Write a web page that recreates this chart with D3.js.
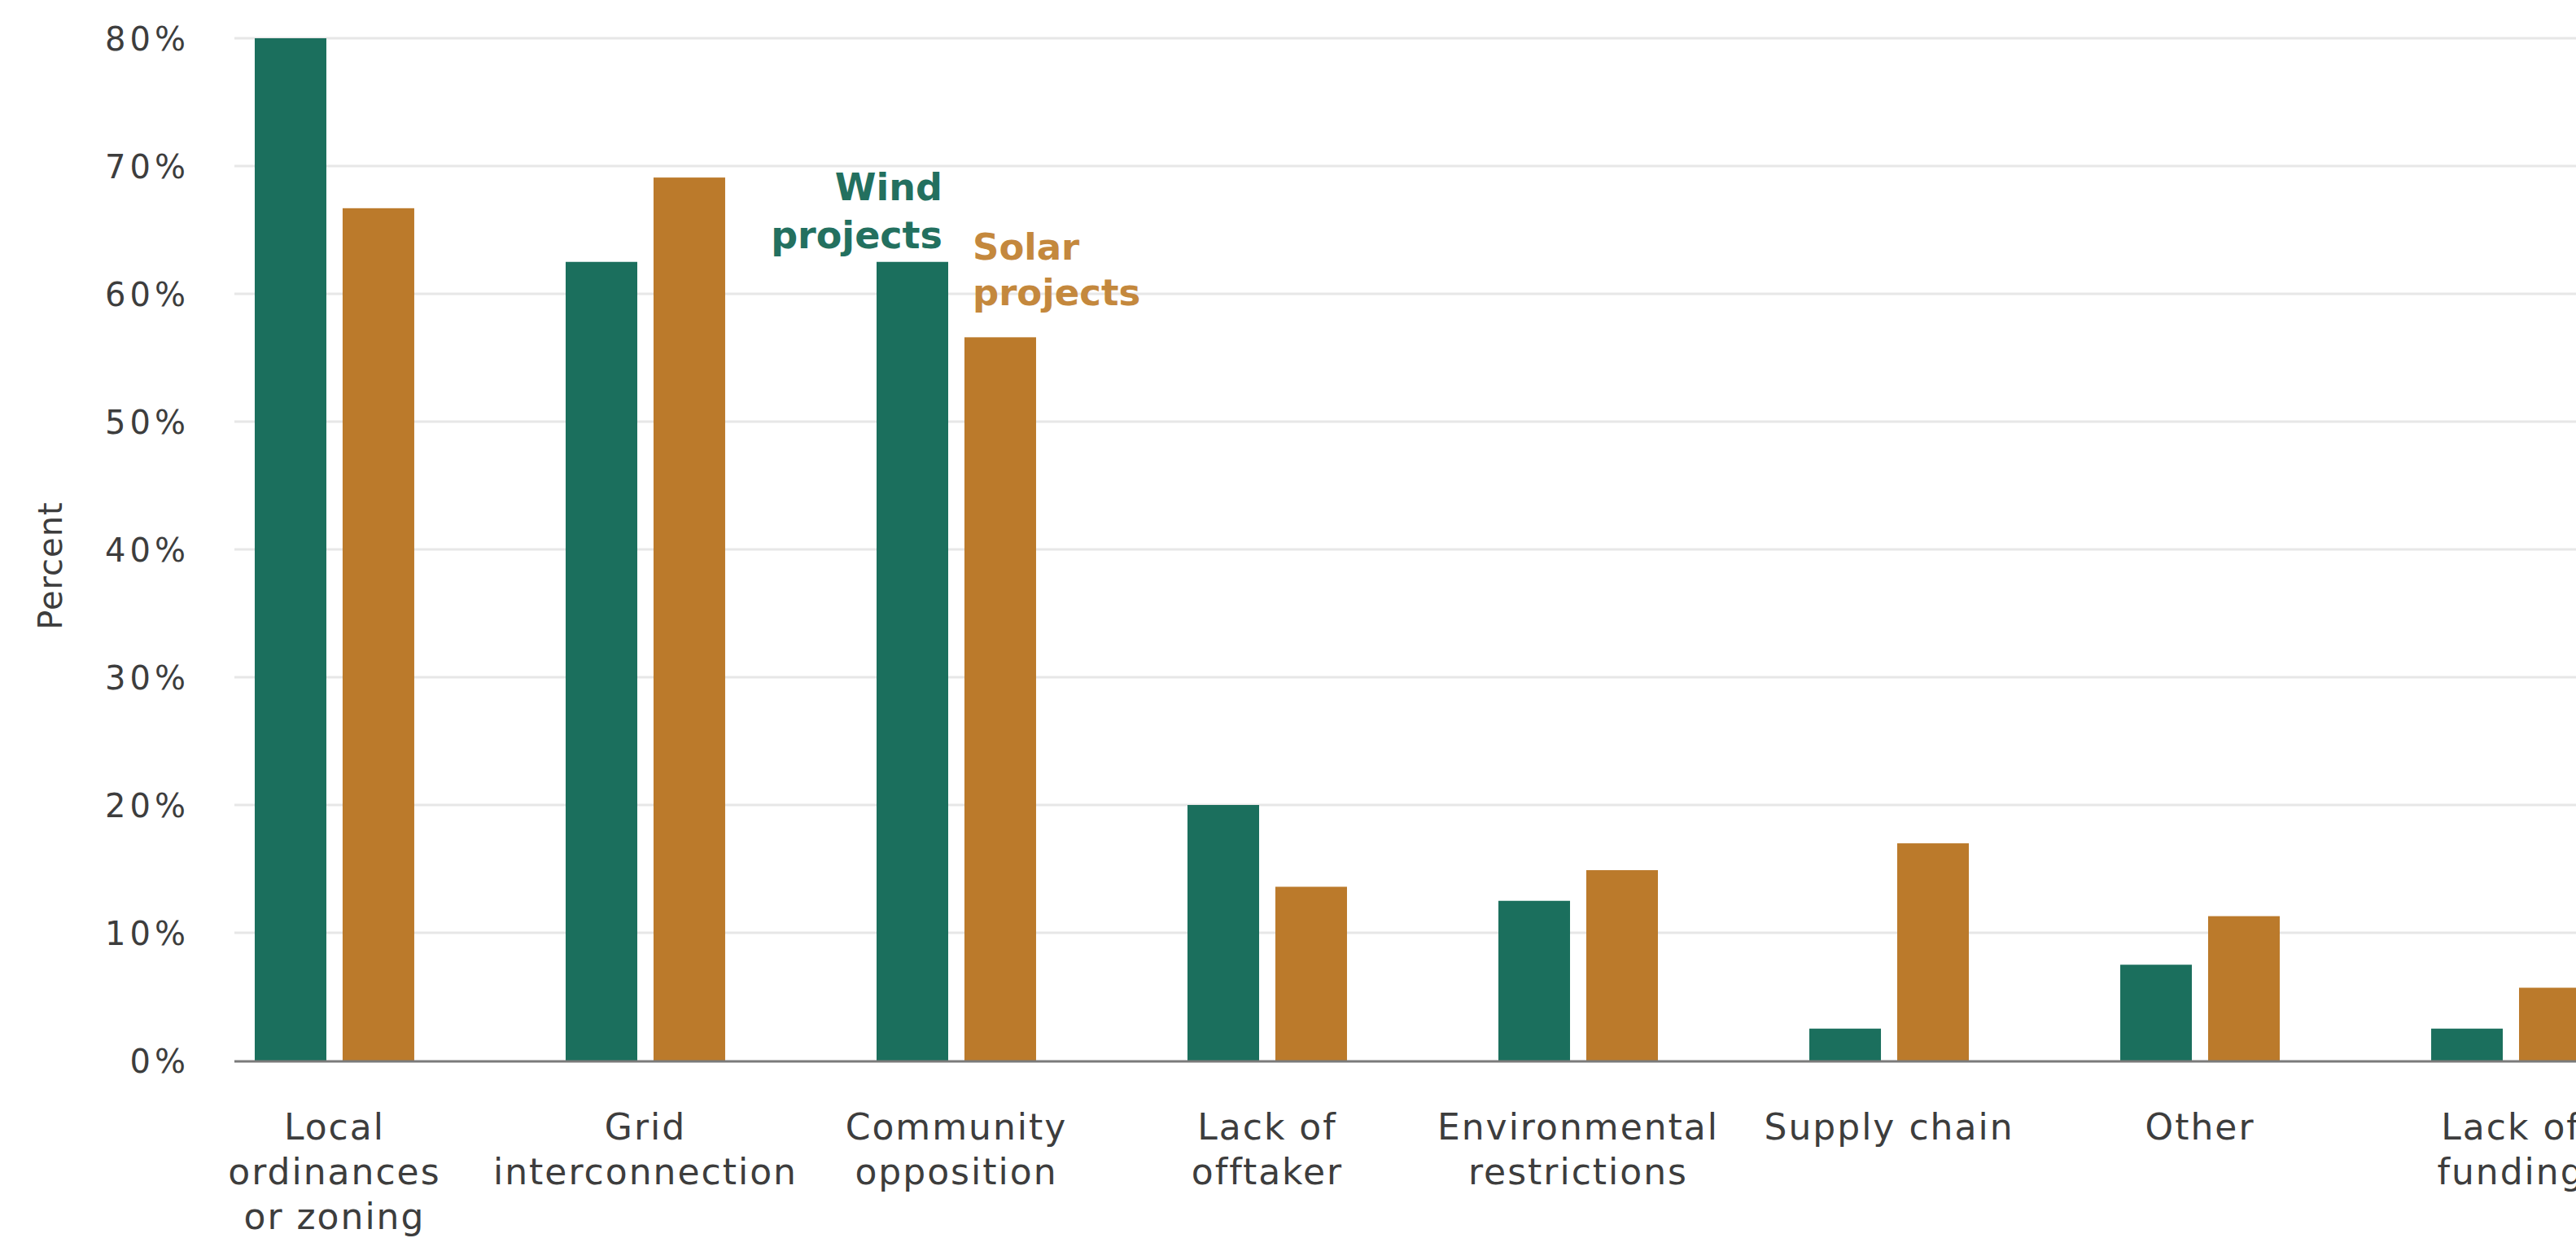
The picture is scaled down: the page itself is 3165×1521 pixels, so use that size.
<!DOCTYPE html>
<html>
<head>
<meta charset="utf-8">
<script src="https://cdn.jsdelivr.net/npm/d3@7"></script>
<style>
  html, body { margin: 0; padding: 0; background: #ffffff; overflow: hidden; }
  svg { display: block; }
  text { font-family: "DejaVu Sans", sans-serif; }
</style>
</head>
<body>
<svg id="chart" width="3165" height="1521"></svg>
<script>
// ---- data ----
const categories = [
  "Local ordinances or zoning",
  "Grid interconnection",
  "Community opposition",
  "Lack of offtaker",
  "Environmental restrictions",
  "Supply chain",
  "Other",
  "Lack of funding"
];
const categoryLines = [
  ["Local", "ordinances", "or zoning"],
  ["Grid", "interconnection"],
  ["Community", "opposition"],
  ["Lack of", "offtaker"],
  ["Environmental", "restrictions"],
  ["Supply chain"],
  ["Other"],
  ["Lack of", "funding"]
];
const seriesNames = ["Wind projects", "Solar projects"];
const windValues  = [80, 62.5, 62.5, 20, 12.5, 2.5, 7.5, 2.5];
const solarValues = [66.7, 69.1, 56.6, 13.6, 14.9, 17.0, 11.3, 5.7];
const yTicks = [0, 10, 20, 30, 40, 50, 60, 70, 80];
const yAxisTitle = "Percent";

// ---- layout ----
const W = 3165, H = 1521;
const plotLeft = 288, plotRight = 3208;
const yBottom = 1303, yTop = 47;
const colors = { "Wind projects": "#1b6f5d", "Solar projects": "#bb7a2b" };
const labelColors = { "Wind projects": "#23705f", "Solar projects": "#c4883d" };

const svg = d3.select("#chart");

const x0 = d3.scaleBand()
  .domain(categories)
  .range([plotLeft, plotRight])
  .paddingInner(0.487)
  .paddingOuter(0.0654);

const x1 = d3.scaleBand()
  .domain(seriesNames)
  .range([0, x0.bandwidth()])
  .paddingInner(0.185)
  .paddingOuter(0);

const y = d3.scaleLinear().domain([0, 80]).range([yBottom, yTop]);

// gridlines
svg.append("g")
  .selectAll("line")
  .data(yTicks.filter(d => d > 0))
  .join("line")
  .attr("x1", plotLeft)
  .attr("x2", W)
  .attr("y1", d => y(d))
  .attr("y2", d => y(d))
  .attr("stroke", "#e7e7e7")
  .attr("stroke-width", 3);

// y tick labels via axis
const yAxis = d3.axisLeft(y)
  .tickValues(yTicks)
  .tickFormat(d => d + "%")
  .tickSize(0)
  .tickPadding(0);

const yg = svg.append("g")
  .attr("transform", `translate(${228 + 5},0)`)
  .call(yAxis);
yg.select(".domain").remove();
yg.selectAll("text")
  .attr("font-size", 40)
  .attr("letter-spacing", 5)
  .attr("fill", "#3d3d3d")
  .attr("dy", "0.36em");

// y axis title
svg.append("text")
  .attr("transform", `translate(76, ${(yTop + yBottom) / 2 + 20}) rotate(-90)`)
  .attr("text-anchor", "middle")
  .attr("font-size", 40)
  .attr("letter-spacing", 1)
  .attr("fill", "#3d3d3d")
  .text(yAxisTitle);

// bars
const rows = categories.map((c, i) => ({
  category: c,
  values: [
    { key: seriesNames[0], value: windValues[i] },
    { key: seriesNames[1], value: solarValues[i] }
  ]
}));

const groups = svg.append("g")
  .selectAll("g")
  .data(rows)
  .join("g")
  .attr("transform", d => `translate(${x0(d.category)},0)`);

groups.selectAll("rect")
  .data(d => d.values)
  .join("rect")
  .attr("x", d => x1(d.key))
  .attr("width", x1.bandwidth())
  .attr("y", d => y(d.value))
  .attr("height", d => y(0) - y(d.value))
  .attr("fill", d => colors[d.key]);

// baseline axis
svg.append("line")
  .attr("x1", plotLeft)
  .attr("x2", W)
  .attr("y1", y(0) + 1)
  .attr("y2", y(0) + 1)
  .attr("stroke", "#7a7a7a")
  .attr("stroke-width", 3);

// x labels
const xl = svg.append("g")
  .selectAll("text")
  .data(categories)
  .join("text")
  .attr("x", d => x0(d) + x0.bandwidth() / 2)
  .attr("y", 1400)
  .attr("text-anchor", "middle")
  .attr("font-size", 44)
  .attr("letter-spacing", 2)
  .attr("fill", "#3d3d3d");

xl.each(function(d, i) {
  const t = d3.select(this);
  categoryLines[i].forEach((line, j) => {
    t.append("tspan")
      .attr("x", x0(d) + x0.bandwidth() / 2)
      .attr("dy", j === 0 ? 0 : 55)
      .text(line);
  });
});

// direct series labels on "Community opposition"
const annCat = categories[2];
const windRight = x0(annCat) + x1(seriesNames[0]) + x1.bandwidth() - 7;
const windTop = y(windValues[2]);
const wl = svg.append("text")
  .attr("text-anchor", "end")
  .attr("font-size", 46)
  .attr("font-weight", "bold")
  .attr("fill", labelColors[seriesNames[0]]);
wl.append("tspan").attr("x", windRight).attr("y", windTop - 76).text("Wind");
wl.append("tspan").attr("x", windRight).attr("y", windTop - 17).text("projects");

const solarLeft = x0(annCat) + x1(seriesNames[1]) + 10;
const solarTop = y(solarValues[2]);
const sl = svg.append("text")
  .attr("text-anchor", "start")
  .attr("font-size", 45)
  .attr("font-weight", "bold")
  .attr("fill", labelColors[seriesNames[1]]);
sl.append("tspan").attr("x", solarLeft).attr("y", solarTop - 95).text("Solar");
sl.append("tspan").attr("x", solarLeft).attr("y", solarTop - 39).text("projects");
</script>
</body>
</html>
